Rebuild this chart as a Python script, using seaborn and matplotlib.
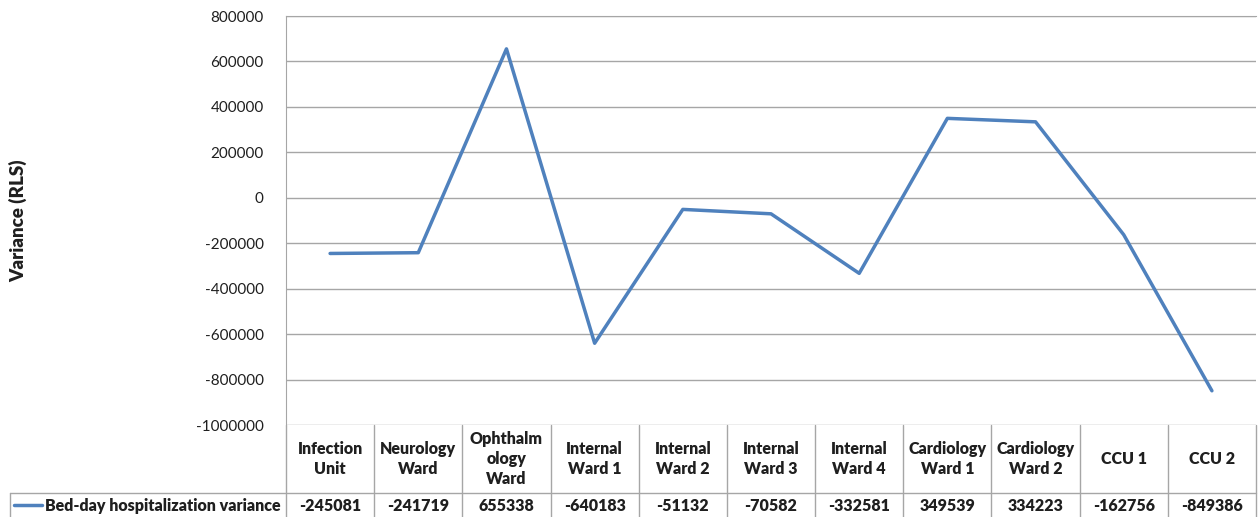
import numpy as np
import pandas as pd
import matplotlib
matplotlib.use("Agg")
import matplotlib.pyplot as plt
import seaborn as sns

wards = ["Infection\nUnit", "Neurology\nWard", "Ophthalm\nology\nWard", "Internal\nWard 1",
         "Internal\nWard 2", "Internal\nWard 3", "Internal\nWard 4", "Cardiology\nWard 1",
         "Cardiology\nWard 2", "CCU 1", "CCU 2"]
variance = [-245081, -241719, 655338, -640183, -51132, -70582, -332581,
            349539, 334223, -162756, -849386]
series_name = "Bed-day hospitalization variance"
yticks = list(range(-1000000, 800001, 200000))

df = pd.DataFrame({"pos": np.arange(len(wards)), "variance": variance})

sns.set_style("white")
plt.rcParams["font.family"] = ["Lato", "DejaVu Sans"]

W, H = 1258, 517
fig = plt.figure(figsize=(W / 100, H / 100), dpi=100)

# plot area in pixels
left, right, top, bottom = 286, 1256, 16, 425
table_bottom = 517
grid_col = "#a6a6a6"
line_col = "#4f81bd"
txt_col = "#1f1f1f"

ax = fig.add_axes([left / W, (H - bottom) / H, (right - left) / W, (bottom - top) / H])
sns.lineplot(data=df, x="pos", y="variance", ax=ax, color=line_col, linewidth=2.5)
ax.set_xlim(-0.5, len(wards) - 0.5)
ax.set_ylim(-1000000, 800000)
ax.set_yticks(yticks)
ax.set_yticklabels([str(t) for t in yticks], fontsize=11, color=txt_col)
ax.set_xticks([])
ax.set_xlabel("")
ax.set_ylabel("Variance (RLS)", fontsize=13.5, fontweight="heavy", color=txt_col, labelpad=0)
ax.yaxis.set_label_coords(-(left - 18) / (right - left), 0.5)
ax.yaxis.label.set_va("center")
ax.tick_params(axis="y", length=0, pad=16)
ax.grid(axis="y", color=grid_col, linewidth=1)
for s in ["right", "bottom"]:
    ax.spines[s].set_visible(False)
ax.spines["top"].set_color(grid_col)
ax.spines["left"].set_color(grid_col)

# data table underneath
tab_h = table_bottom - bottom
tx = fig.add_axes([left / W, 0, (right - left) / W, tab_h / H])
tx.set_xlim(-0.5, len(wards) - 0.5)
tx.set_ylim(tab_h, 0)
tx.axis("off")
px_col = (right - left) / len(wards)
split = 493 - bottom
legend_left = -0.5 - (left - 10) / px_col
for i in range(len(wards) + 1):
    tx.plot([i - 0.5, i - 0.5], [0, tab_h], color=grid_col, lw=1, clip_on=False)
tx.plot([legend_left, len(wards) - 0.5], [split, split], color=grid_col, lw=1, clip_on=False)
tx.plot([legend_left, legend_left], [split, tab_h], color=grid_col, lw=1, clip_on=False)
for i, (w, v) in enumerate(zip(wards, variance)):
    tx.text(i, split / 2, w, ha="center", va="center", fontsize=11.5,
            fontweight="heavy", color=txt_col, linespacing=1.3)
    tx.text(i, (split + tab_h) / 2 + 1, str(v), ha="center", va="center",
            fontsize=11.5, fontweight="heavy", color=txt_col)
lx0 = legend_left + 4 / px_col
lx1 = legend_left + 32 / px_col
tx.plot([lx0, lx1], [(split + tab_h) / 2] * 2, color=line_col, lw=2.5, clip_on=False)
tx.text(legend_left + 35 / px_col, (split + tab_h) / 2 + 1, series_name, ha="left",
        va="center", fontsize=11.5, fontweight="heavy", color=txt_col)

fig.savefig("out.png", dpi=100)
